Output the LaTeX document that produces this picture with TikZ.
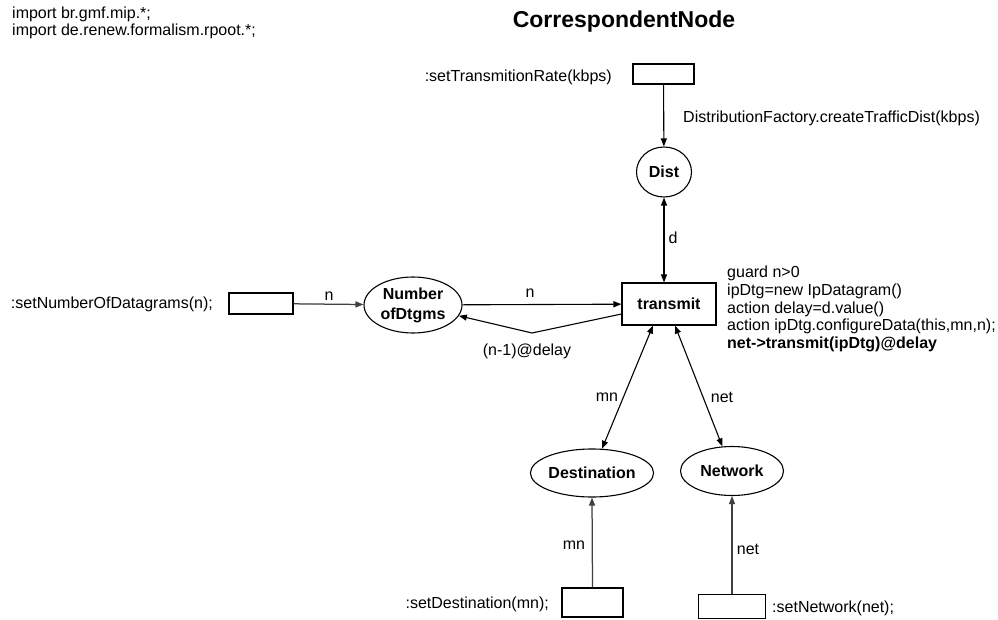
\documentclass[tikz,border=0pt]{standalone}
\usepackage{fontspec}
\setmainfont{Liberation Sans}
\usetikzlibrary{arrows.meta,shapes.geometric,calc}
\definecolor{inarcgray}{HTML}{404040}
\begin{document}
\begin{tikzpicture}[x=1pt,y=-1pt,
  txt/.style={inner sep=0pt,font=\fontsize{16}{17.7}\selectfont},
  place/.style={draw,ellipse,line width=1.1pt,inner sep=0pt,
    font=\bfseries\fontsize{16}{20}\selectfont,align=center},
  trans/.style={draw,rectangle,line width=1.1pt,inner sep=0pt},
  tip/.tip={Triangle[length=8pt,width=6pt]},
  arc/.style={line width=1.1pt,-tip},
  darc/.style={line width=1.1pt,tip-tip},
  inarc/.style={arc,line width=1.25pt,draw=inarcgray,fill=inarcgray},
]
\useasboundingbox (0,0) rectangle (998,620);

% declarations and title
\node[txt,anchor=north west,align=left] (imports) at (12,6.5)
  {import br.gmf.mip.*;\\import de.renew.formalism.rpoot.*;};
\node[inner sep=0pt,font=\bfseries\fontsize{23}{26}\selectfont] (title) at (624,22) {CorrespondentNode};

% transitions
\node[trans,minimum width=61pt,minimum height=20pt] (rate) at (663.5,74) {};
\node[trans,minimum width=94pt,minimum height=42pt,font=\bfseries\fontsize{16}{18}\selectfont] (transmit) at (669,304) {transmit};
\node[trans,minimum width=64pt,minimum height=21pt] (numin) at (261,303.5) {};
\node[trans,minimum width=61pt,minimum height=29pt] (destin) at (592.5,602.5) {};
\node[trans,minimum width=67pt,minimum height=24pt] (netin) at (732,606.5) {};

% places
\node[place,minimum width=55pt,minimum height=50pt] (dist) at (664,172) {Dist};
\node[place,minimum width=98pt,minimum height=56pt] (number) at (413,305) {Number\\ofDtgms};
\node[place,minimum width=104pt,minimum height=48pt] (dest) at (592,473) {Destination};
\node[place,minimum width=103pt,minimum height=49pt] (network) at (732,471) {Network};

% transition labels
\node[txt,anchor=east] (ratelbl) at (612,77) {:setTransmitionRate(kbps)};
\node[txt,anchor=east] (numlbl) at (213,304) {:setNumberOfDatagrams(n);};
\node[txt,anchor=east] (destlbl) at (549,604) {:setDestination(mn);};
\node[txt,anchor=west] (netlbl) at (772,608) {:setNetwork(net);};

% inscription of transmit
\node[txt,anchor=north west,align=left] (guard) at (727,266)
  {guard n>0\\ipDtg=new IpDatagram()\\action delay=d.value()\\action ipDtg.configureData(this,mn,n);\\
   \textbf{net->transmit(ipDtg)@delay}};

% arcs
\draw[arc] (rate) -- (dist);
\node[txt,anchor=west] (factory) at (683,118) {DistributionFactory.createTrafficDist(kbps)};

\draw[darc] (dist.south) -- (dist.south |- transmit.north);
\node[txt] (dlbl) at (673,238) {d};

\draw[inarc] (numin) -- (number);
\node[txt] (ninlbl) at (329,296) {n};

\draw[arc] (number) -- (transmit);
\node[txt] (nlbl) at (530,293) {n};

\coordinate (bend) at (532,333);
\draw[arc] ([yshift=-10pt]transmit.west) -- (bend) -- (number);
\node[txt] (delaylbl) at (527,351) {(n-1)@delay};

\draw[darc] ([xshift=-16pt]transmit.south) -- (dest);
\node[txt] (mnlbl) at (607,397) {mn};
\draw[darc] ([xshift=6pt]transmit.south) -- (network);
\node[txt] (netarclbl) at (722,397) {net};

\draw[inarc] (destin.north) -- (dest.south);
\node[txt] (mninlbl) at (574,545) {mn};
\draw[inarc] (netin.north) -- (network.south);
\node[txt] (netinlbl) at (748,549) {net};
\end{tikzpicture}
\end{document}
